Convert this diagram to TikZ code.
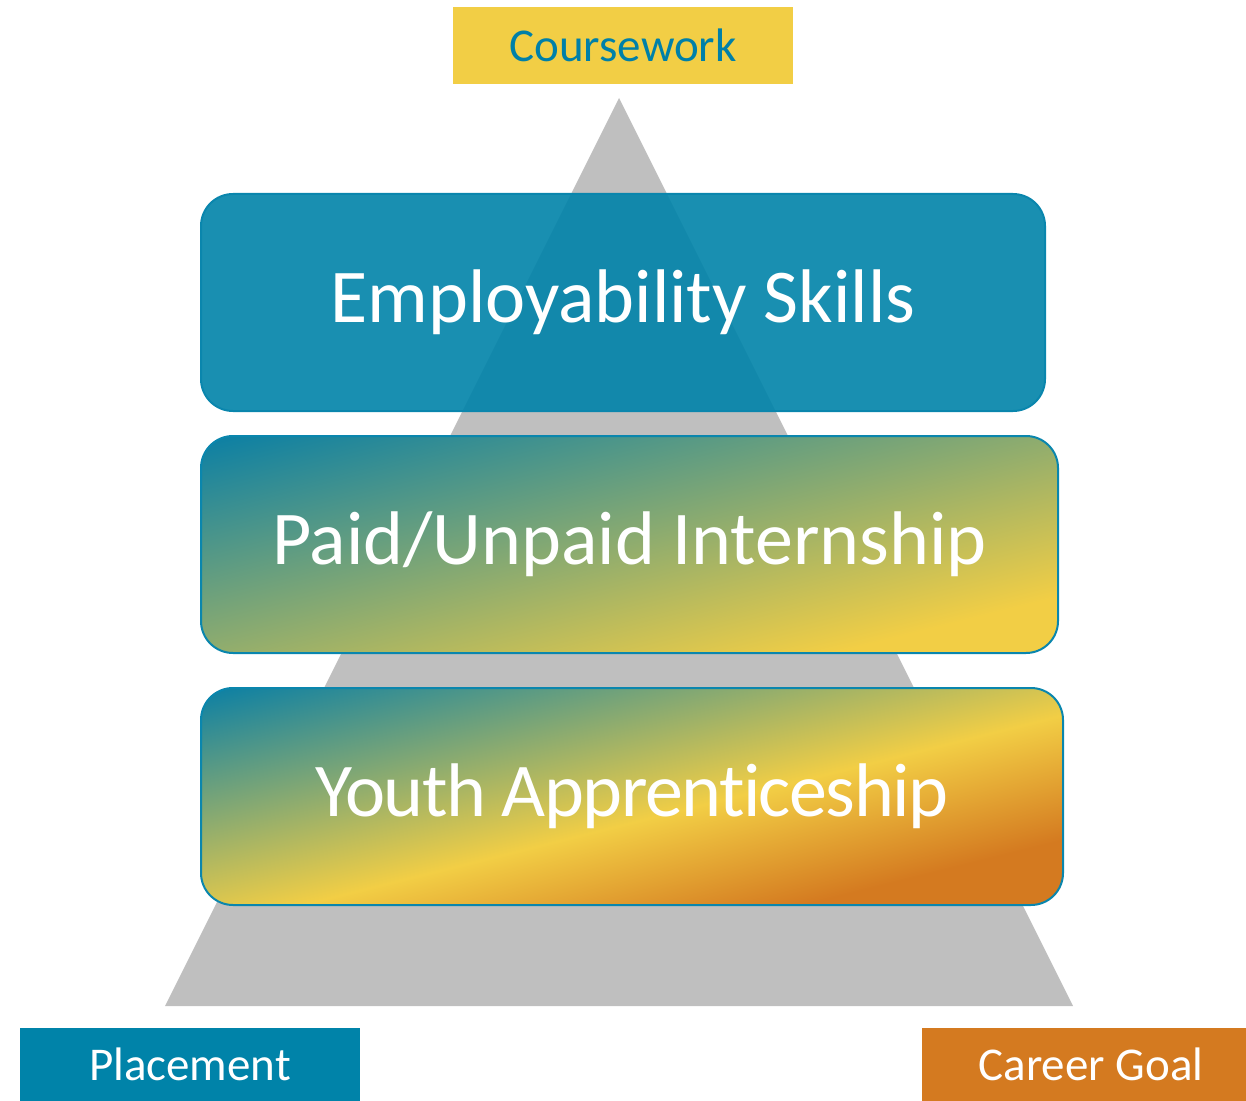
\documentclass[tikz,border=0pt]{standalone}
\usepackage{fontspec}
\setmainfont{Carlito}[Ligatures=CommonOff]
\definecolor{cteal}{HTML}{0A7FA5}
\definecolor{cblue}{HTML}{0083A9}
\definecolor{cyel}{HTML}{F2CE45}
\definecolor{corange}{HTML}{D47A20}
\definecolor{cgray}{HTML}{BFBFBF}
\definecolor{cedge}{HTML}{0A86AD}
\definecolor{ctxt}{HTML}{0080A8}
\pgfdeclareverticalshading{internshade}{100bp}{color(0bp)=(cyel); color(31.5bp)=(cyel); color(75bp)=(cteal); color(100bp)=(cteal)}
\pgfdeclareverticalshading{apprshade}{100bp}{color(0bp)=(corange); color(32.5bp)=(corange); color(47bp)=(cyel); color(75bp)=(cteal); color(100bp)=(cteal)}
\tikzset{
  layer/.style={draw=cedge, line width=1pt, rounded corners=16pt, minimum height=108.5pt,
    inner sep=0pt, text=white, font=\fontsize{38}{46}\selectfont},
  tag/.style={inner sep=0pt, minimum height=36.5pt, font=\fontsize{23.5}{28}\selectfont},
  tilted/.style 2 args={path picture={
    \shade[shading=#1, transform canvas={rotate around={14:(path picture bounding box.center)}}]
      ([shift={(-1000,-#2)}]path picture bounding box.center) rectangle
      ([shift={(1000,#2)}]path picture bounding box.center);}}
}
\begin{document}
\begin{tikzpicture}[x=0.5pt, y=-0.5pt]
\useasboundingbox (0,0) rectangle (1246,1101);
\node[tag, fill=cyel, text=ctxt, minimum width=170pt, minimum height=38.5pt] (course) at (623,45.5) {Coursework};
\fill[cgray] (619,98) -- (1073,1006) -- (165,1006) -- cycle;
\node[layer, fill=cblue, fill opacity=0.9, text opacity=1, minimum width=422pt] (skills) at (623,302.5) {Employability Skills};
\node[layer, tilted={internshade}{208.9}, minimum width=428.5pt] (intern) at (629.5,544.5) {Paid/Unpaid Internship};
\node[layer, tilted={apprshade}{209.5}, minimum width=431pt] (appr) at (632,796.5) {\addfontfeatures{LetterSpace=-2}Youth Apprenticeship};
\node[tag, fill=cblue, text=white, minimum width=170pt] (place) at (190,1064.5) {Placement};
\node[tag, fill=corange, text=white, minimum width=162pt] (goal) at (1084,1064.5) {\hspace*{7pt}Career Goal};
\end{tikzpicture}
\end{document}
